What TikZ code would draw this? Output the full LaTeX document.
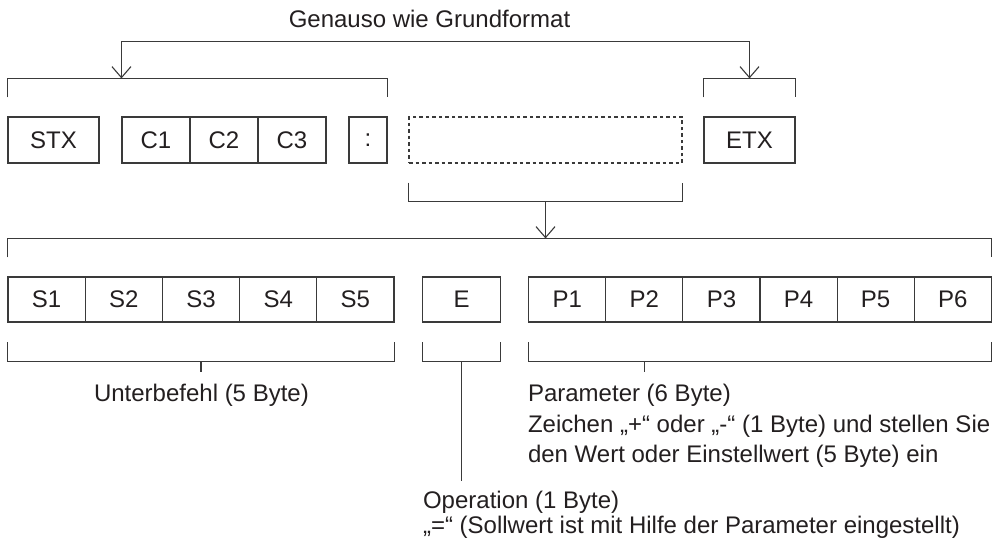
\documentclass[tikz,border=0pt]{standalone}
\usepackage{fontspec}
\setmainfont{Liberation Sans}
\usetikzlibrary{arrows.meta,calc}
\definecolor{ln}{HTML}{3A3A3A}
\definecolor{tx}{HTML}{231F20}
\begin{document}
\begin{tikzpicture}[x=1pt,y=-1pt,
  line width=1.1pt,
  color=ln,
  cell/.style={draw=ln, line width=1.1pt, inner sep=0pt, text=tx,
    font=\fontsize{24}{28}\selectfont},
  row1/.style={cell, minimum height=46pt},
  row2/.style={cell, minimum height=45pt, minimum width=77.2pt},
  lbl/.style={text=tx, inner sep=0pt, anchor=base west,
    font=\fontsize{24}{28}\selectfont},
  barb/.style={-{Straight Barb[length=11pt,width=19pt]}},
  dbarb/.style={{Straight Barb[length=11pt,width=19pt]}-{Straight Barb[length=11pt,width=19pt]}},
  ]
\fill[white] (0,0) rectangle (992,545);
\useasboundingbox (0,0) rectangle (992,545);

% top row
\node[row1, minimum width=91pt] (stx) at (53.5,140) {STX};
\node[row1, minimum width=68pt] (c1) at (156,140) {C1};
\node[row1, minimum width=68pt] (c2) at (224,140) {C2};
\node[row1, minimum width=68pt] (c3) at (292,140) {C3};
\node[row1, minimum width=38pt] (colon) at (368,140) {:};
\node[row1, minimum width=273pt, dash pattern=on 3.5pt off 3pt] (dash) at (545.5,140) {};
\node[row1, minimum width=91pt] (etx) at (749.5,140) {ETX};

% second row
\node[row2] (s1) at (46.6,299.5) {S1};
\node[row2] (s2) at (123.8,299.5) {S2};
\node[row2] (s3) at (201,299.5) {S3};
\node[row2] (s4) at (278.2,299.5) {S4};
\node[row2] (s5) at (355.4,299.5) {S5};
\node[row2, minimum width=77.6pt] (e) at (461.5,299.5) {E};
\node[row2, minimum width=77.1pt] (p1) at (567.25,299.5) {P1};
\node[row2, minimum width=77.1pt] (p2) at (644.35,299.5) {P2};
\node[row2, minimum width=77.1pt] (p3) at (721.45,299.5) {P3};
\node[row2, minimum width=77.1pt] (p4) at (798.55,299.5) {P4};
\node[row2, minimum width=77.1pt] (p5) at (875.65,299.5) {P5};
\node[row2, minimum width=77.1pt] (p6) at (952.75,299.5) {P6};

% top brackets
\draw ($(stx.north west)+(0,-19)$) -- ++(0,-19) -| ($(colon.north east)+(0,-19)$);
\draw ($(etx.north west)+(0,-19)$) -- ++(0,-19) -| ($(etx.north east)+(0,-19)$);
\coordinate (tl) at ($(c1.north west)+(0,-38)$);
\coordinate (tr) at ($(etx.north)+(0,-38)$);
\draw[dbarb] (tl) -- ++(0,-37) -| (tr);
\node[lbl, anchor=base] (gen) at (429.5,27.5) {Genauso wie Grundformat};

% dashed bracket and arrow
\draw ($(dash.south west)+(0,19)$) -- ++(0,19) -| ($(dash.south east)+(0,19)$);
\coordinate (dm) at ($(dash.south)+(0,38)$);
\coordinate (bigtop) at ($(s1.north -| dash.south)+(0,-38)$);
\draw[barb] (dm) -- (bigtop);
\draw ($(s1.north west)+(0,-19)$) -- ++(0,-19) -| ($(p6.north east)+(0,-19)$);

% lower brackets
\draw ($(s1.south west)+(0,19.5)$) -- ++(0,19) -| ($(s5.south east)+(0,19.5)$);
\draw ($(s3.south)+(0,38.5)$) -- ++(0,11);
\draw ($(e.south west)+(0,19.5)$) -- ++(0,19) -| ($(e.south east)+(0,19.5)$);
\coordinate (eop) at (461.5,481);
\draw ($(e.south)+(0,38.5)$) -- (eop);
\draw ($(p1.south west)+(0,19.5)$) -- ++(0,19) -| ($(p6.south east)+(0,19.5)$);
\draw ($(p2.south)+(0,38.5)$) -- ++(0,11);

% labels
\node[lbl] (unt) at (93.5,401) {Unterbefehl (5 Byte)};
\node[lbl] (par1) at (527.5,401) {Parameter (6 Byte)};
\node[lbl] (par2) at (527.5,432) {Zeichen „+“ oder „-“ (1 Byte) und stellen Sie};
\node[lbl] (par3) at (527.5,462) {den Wert oder Einstellwert (5 Byte) ein};
\node[lbl] (op1) at (422.5,508) {Operation (1 Byte)};
\node[lbl] (op2) at (422.5,533.5) {„=“ (Sollwert ist mit Hilfe der Parameter eingestellt)};
\end{tikzpicture}
\end{document}
